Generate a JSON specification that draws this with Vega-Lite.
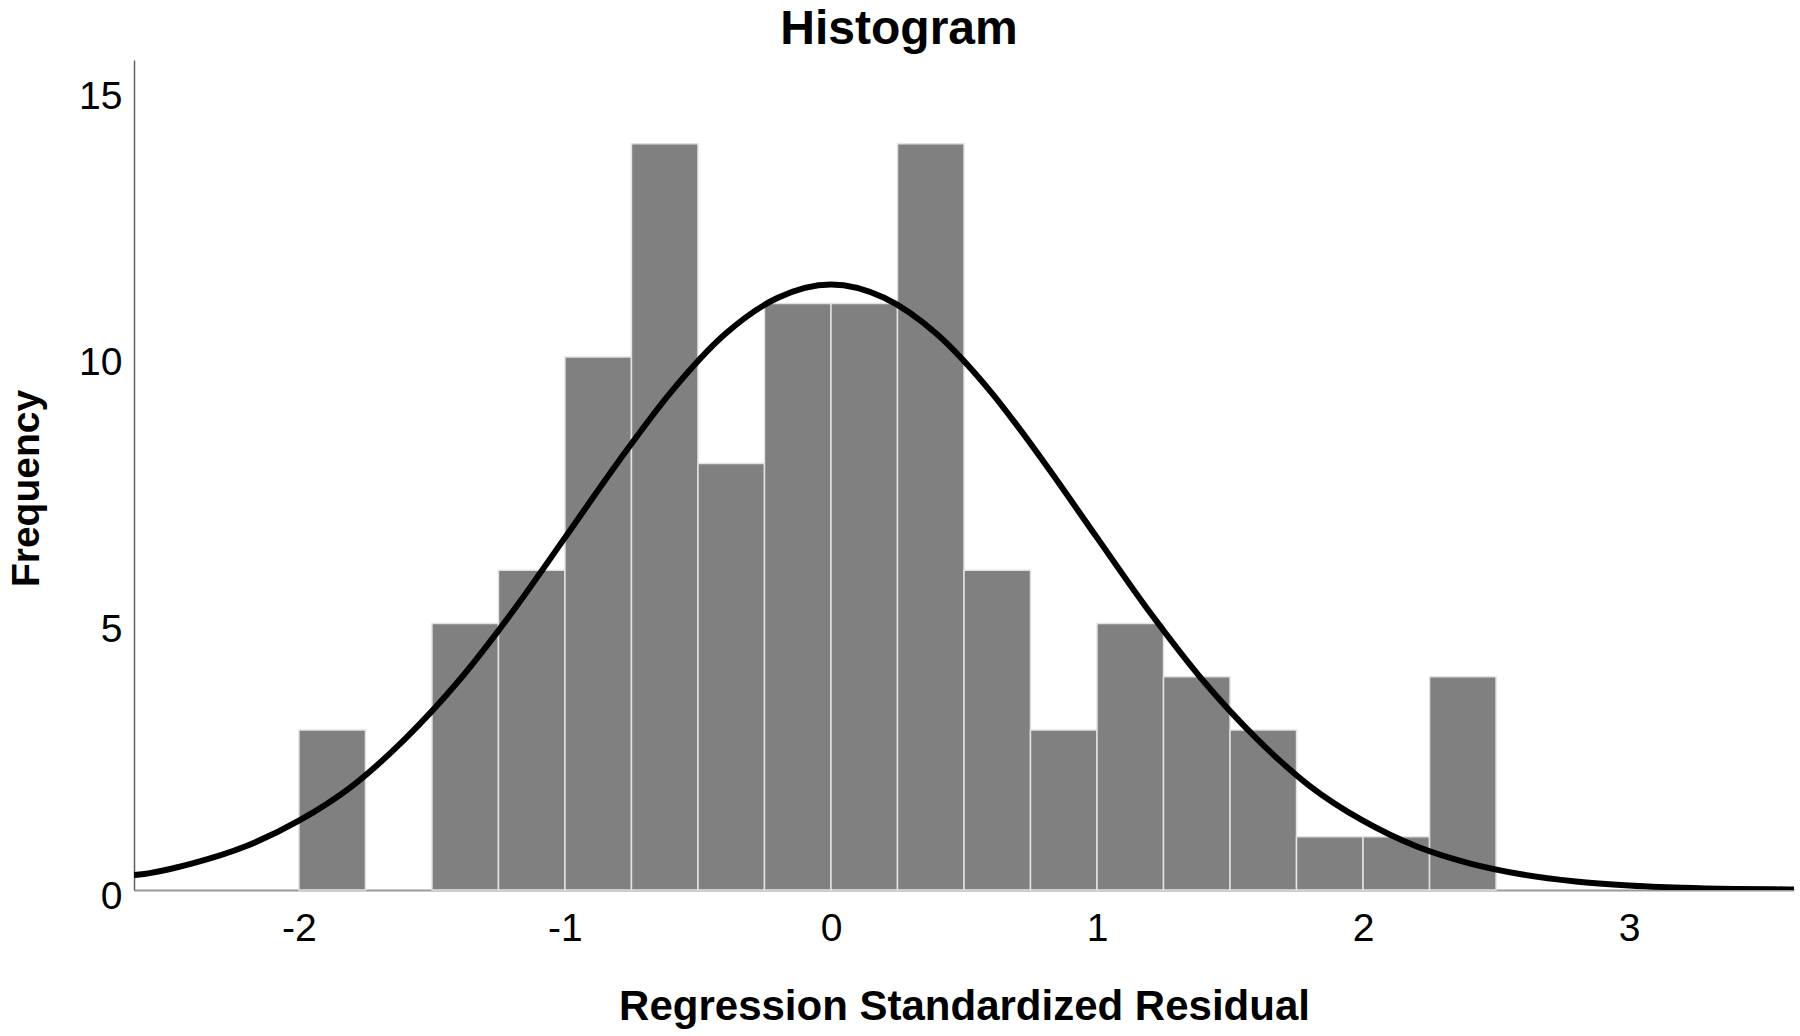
{
  "$schema": "https://vega.github.io/schema/vega-lite/v6.json",
  "width": 1660,
  "height": 830,
  "autosize": {"type": "none"},
  "padding": {"left": 134, "top": 60, "right": 6, "bottom": 146},
  "background": "white",
  "title": {
    "text": "Histogram",
    "font": "Liberation Sans, Arial, sans-serif",
    "fontSize": 48,
    "fontWeight": "bold",
    "color": "#000000",
    "anchor": "middle",
    "frame": "group",
    "baseline": "alphabetic",
    "offset": 21,
    "dy": 53,
    "dx": -65
  },
  "config": {
    "view": {"stroke": null},
    "font": "Liberation Sans, Arial, sans-serif"
  },
  "datasets": {
    "bins": [
      {"bin_start": -2.0, "bin_end": -1.75, "count": 3},
      {"bin_start": -1.5, "bin_end": -1.25, "count": 5},
      {"bin_start": -1.25, "bin_end": -1.0, "count": 6},
      {"bin_start": -1.0, "bin_end": -0.75, "count": 10},
      {"bin_start": -0.75, "bin_end": -0.5, "count": 14},
      {"bin_start": -0.5, "bin_end": -0.25, "count": 8},
      {"bin_start": -0.25, "bin_end": 0.0, "count": 11},
      {"bin_start": 0.0, "bin_end": 0.25, "count": 11},
      {"bin_start": 0.25, "bin_end": 0.5, "count": 14},
      {"bin_start": 0.5, "bin_end": 0.75, "count": 6},
      {"bin_start": 0.75, "bin_end": 1.0, "count": 3},
      {"bin_start": 1.0, "bin_end": 1.25, "count": 5},
      {"bin_start": 1.25, "bin_end": 1.5, "count": 4},
      {"bin_start": 1.5, "bin_end": 1.75, "count": 3},
      {"bin_start": 1.75, "bin_end": 2.0, "count": 1},
      {"bin_start": 2.0, "bin_end": 2.25, "count": 1},
      {"bin_start": 2.25, "bin_end": 2.5, "count": 4}
    ],
    "curve": [
      {"x": -2.62, "y": 0.28},
      {"x": -2.6, "y": 0.29},
      {"x": -2.4, "y": 0.5},
      {"x": -2.2, "y": 0.82},
      {"x": -2.0, "y": 1.3},
      {"x": -1.8, "y": 1.95},
      {"x": -1.6, "y": 2.84},
      {"x": -1.4, "y": 3.92},
      {"x": -1.2, "y": 5.2},
      {"x": -1.0, "y": 6.61},
      {"x": -0.8, "y": 8.03},
      {"x": -0.6, "y": 9.35},
      {"x": -0.4, "y": 10.42},
      {"x": -0.2, "y": 11.11},
      {"x": 0.0, "y": 11.36},
      {"x": 0.2, "y": 11.11},
      {"x": 0.4, "y": 10.42},
      {"x": 0.6, "y": 9.35},
      {"x": 0.8, "y": 8.03},
      {"x": 1.0, "y": 6.61},
      {"x": 1.2, "y": 5.2},
      {"x": 1.4, "y": 3.92},
      {"x": 1.6, "y": 2.84},
      {"x": 1.8, "y": 1.95},
      {"x": 2.0, "y": 1.3},
      {"x": 2.2, "y": 0.82},
      {"x": 2.4, "y": 0.5},
      {"x": 2.6, "y": 0.29},
      {"x": 2.8, "y": 0.16},
      {"x": 3.0, "y": 0.086},
      {"x": 3.2, "y": 0.044},
      {"x": 3.4, "y": 0.021},
      {"x": 3.6, "y": 0.01},
      {"x": 3.62, "y": 0.009}
    ]
  },
  "layer": [
    {
      "data": {"name": "bins"},
      "mark": {"type": "bar", "color": "#808080", "stroke": "#e2e2e2", "strokeWidth": 1.5, "binSpacing": 0},
      "encoding": {
        "x": {
          "field": "bin_start",
          "type": "quantitative",
          "scale": {"domain": [-2.62, 3.62], "nice": false, "zero": false},
          "axis": {
            "title": "Regression Standardized Residual",
            "values": [-2, -1, 0, 1, 2, 3],
            "labelExpr": "datum.value < 0 ? '-' + abs(datum.value) : '' + datum.value",
            "grid": false,
            "ticks": false,
            "tickSize": 0,
            "labelPadding": 19,
            "labelFontSize": 39,
            "labelColor": "#000000",
            "labelFont": "Liberation Sans, Arial, sans-serif",
            "domainColor": "#9a9a9a",
            "domainWidth": 2,
            "titleFontSize": 42,
            "titleFontWeight": "bold",
            "titleColor": "#000000",
            "titleFont": "Liberation Sans, Arial, sans-serif",
            "titleBaseline": "alphabetic",
            "titleY": 129
          }
        },
        "x2": {"field": "bin_end"},
        "y": {
          "field": "count",
          "type": "quantitative",
          "scale": {"domain": [0, 15.57], "nice": false},
          "axis": {
            "title": "Frequency",
            "values": [0, 5, 10, 15],
            "grid": false,
            "ticks": false,
            "tickSize": 0,
            "labelPadding": 12,
            "labelOffset": 6,
            "labelFontSize": 39,
            "labelColor": "#000000",
            "labelFont": "Liberation Sans, Arial, sans-serif",
            "domainColor": "#606060",
            "domainWidth": 1.5,
            "titleFontSize": 39,
            "titleFontWeight": "bold",
            "titleColor": "#000000",
            "titleFont": "Liberation Sans, Arial, sans-serif",
            "titleBaseline": "alphabetic",
            "titleX": -96,
            "titleY": 428
          }
        },
        "y2": {"datum": 0}
      }
    },
    {
      "data": {"name": "curve"},
      "mark": {"type": "line", "color": "#000000", "strokeWidth": 6, "interpolate": "monotone", "clip": true},
      "encoding": {
        "x": {"field": "x", "type": "quantitative"},
        "y": {"field": "y", "type": "quantitative"}
      }
    }
  ]
}
